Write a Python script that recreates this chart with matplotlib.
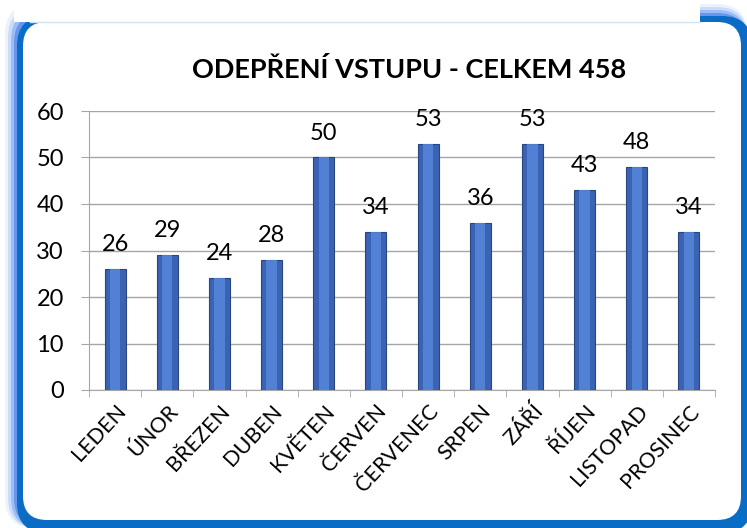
import matplotlib.pyplot as plt
from matplotlib.patches import FancyBboxPatch, Rectangle
import numpy as np

plt.rcParams['font.family'] = ['Lato', 'DejaVu Sans']

months = ["LEDEN", "ÚNOR", "BŘEZEN", "DUBEN", "KVĚTEN", "ČERVEN",
          "ČERVENEC", "SRPEN", "ZÁŘÍ", "ŘÍJEN", "LISTOPAD", "PROSINEC"]
values = [26, 29, 24, 28, 50, 34, 53, 36, 53, 43, 48, 34]
title = "ODEPŘENÍ VSTUPU - CELKEM 458"

W, H = 747, 528
fig = plt.figure(figsize=(W / 100, H / 100), dpi=100)
fig.patch.set_facecolor("white")

# frame drawn in pixel coords
bg = fig.add_axes([0, 0, 1, 1])
bg.set_xlim(0, W)
bg.set_ylim(H, 0)
bg.axis("off")

# soft glow
for i, a in enumerate([0.08, 0.15, 0.25, 0.4]):
    d = 12 - i * 3
    bg.add_patch(FancyBboxPatch((17 - d, 16 - d), W - 17 + d, H - 16 + d,
                                boxstyle="round,pad=0,rounding_size=30",
                                fc="#1560e8", ec="none", alpha=a))
bg.add_patch(FancyBboxPatch((17, 16), W - 17 + 5, H - 16 + 5,
                            boxstyle="round,pad=0,rounding_size=30",
                            fc="#0a6cc4", ec="none"))
bg.add_patch(FancyBboxPatch((23, 22), 718, 498,
                            boxstyle="round,pad=0,rounding_size=24",
                            fc="white", ec="none"))
bg.add_patch(Rectangle((14, 0), 686, 22, fc="white", ec="none"))
bg.plot([30, 700], [22, 22], color="#cfe3f3", lw=1)

ax = fig.add_axes([89 / W, 1 - 390 / H, (715 - 89) / W, (390 - 111) / H])
ax.patch.set_alpha(0)
x = np.arange(len(months))

ax.bar(x, values, width=0.4, color="#3a63b4", edgecolor="#29467f", linewidth=0.8, zorder=3)
ax.bar(x, values, width=0.2, color="#5686dc", linewidth=0, zorder=4, alpha=0.85)

for xi, v in zip(x, values):
    ax.text(xi, v + 3.0, str(v), ha="center", va="bottom", fontsize=17, color="black")

ax.set_xlim(-0.5, len(months) - 0.5)
ax.set_ylim(0, 60)
ax.set_yticks(range(0, 61, 10))
ax.yaxis.grid(True, color="#a6a6a6", linewidth=1)
ax.set_axisbelow(True)

ax.set_xticks(x)
ax.set_xticklabels(months, rotation=47, ha="right", rotation_mode="anchor", fontsize=15.5)
ax.tick_params(axis="x", length=0, pad=8)
ax.set_xticks(np.arange(-0.5, len(months)), minor=True)
ax.tick_params(axis="x", which="minor", length=5, color="#a6a6a6")
ax.tick_params(axis="y", length=6, color="#a6a6a6", labelsize=17, pad=12)

for s in ["top", "right"]:
    ax.spines[s].set_visible(False)
for s in ["left", "bottom"]:
    ax.spines[s].set_color("#a6a6a6")

fig.text(409 / W, 1 - 70 / H, title, ha="center", va="center",
         fontsize=19.5, fontweight="bold")

fig.savefig("out.png", dpi=100)
